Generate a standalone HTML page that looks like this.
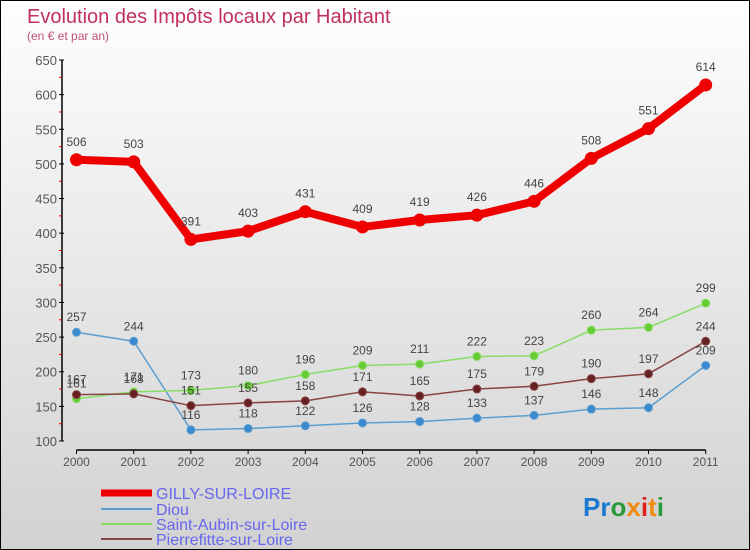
<!DOCTYPE html>
<html><head><meta charset="utf-8"><style>
body{margin:0}
#c{width:748px;height:548px;border:1px solid #000;background:linear-gradient(#fefefe,#d2d2d2);position:relative;font-family:"Liberation Sans",sans-serif;overflow:hidden}
</style></head><body>
<div id="c">
<svg width="748" height="548" id="svg" style="position:absolute;left:0;top:0">
<text x="26" y="22" font-size="20" fill="#c0305a">Evolution des Impôts locaux par Habitant</text>
<text x="26" y="39" font-size="12" fill="#c0507a">(en € et par an)</text>
<g id="axes"></g><g id="series"></g>
<g>
<line x1="100" y1="492" x2="151" y2="492" stroke="#e00" stroke-width="7"/>
<text x="155" y="498" font-size="16" fill="#6666ee">GILLY-SUR-LOIRE</text>
<line x1="100" y1="508" x2="151" y2="508" stroke="#5a9ed0" stroke-width="2"/>
<text x="155" y="514" font-size="16" fill="#6666ee">Diou</text>
<line x1="100" y1="523" x2="151" y2="523" stroke="#88dd66" stroke-width="2"/>
<text x="155" y="529" font-size="16" fill="#6666ee">Saint-Aubin-sur-Loire</text>
<line x1="100" y1="538" x2="151" y2="538" stroke="#884444" stroke-width="2"/>
<text x="155" y="544" font-size="16" fill="#6666ee">Pierrefitte-sur-Loire</text>
</g>
<g font-size="26" font-weight="bold">
<text x="582" y="515"><tspan fill="#1a78d0">Pr</tspan><tspan fill="#2a9a3a">o</tspan><tspan fill="#f08a10">x</tspan><tspan fill="#e02020">i</tspan><tspan fill="#f08a10">t</tspan><tspan fill="#2a9a3a">i</tspan></text>
</g>
</svg>
</div>
<script>
const years=[2000,2001,2002,2003,2004,2005,2006,2007,2008,2009,2010,2011];
const gilly=[506,503,391,403,431,409,419,426,446,508,551,614];
const diou=[257,244,116,118,122,126,128,133,137,146,148,209];
const aubin=[161,171,173,180,196,209,211,222,223,260,264,299];
const pierre=[167,168,151,155,158,171,165,175,179,190,197,244];
const yTicks=[100,150,200,250,300,350,400,450,500,550,600,650];
const NS='http://www.w3.org/2000/svg';
const xs=i=>75.5+i*57.2;
const ys=v=>440-(v-100)*0.6927;
const ax=document.getElementById('axes'),se=document.getElementById('series');
function mk(tag,attrs,parent){const e=document.createElementNS(NS,tag);for(const k in attrs)e.setAttribute(k,attrs[k]);parent.appendChild(e);return e;}
let l=mk('line',{x1:61,y1:ys(650),x2:61,y2:ys(100),stroke:'#000','stroke-width':1.5},ax);


l=mk('line',{x1:xs(0),y1:449,x2:xs(11),y2:449,stroke:'#000','stroke-width':1.5},ax);


yTicks.forEach((v,i)=>{
 mk('line',{x1:58,y1:ys(v),x2:63,y2:ys(v),stroke:'#000'},ax);
 if(i<yTicks.length-1)mk('line',{x1:58,y1:ys(v+25),x2:61,y2:ys(v+25),stroke:'#e00'},ax);
 const t=mk('text',{x:56,y:ys(v)+5,'font-size':13,fill:'#555','text-anchor':'end'},ax);t.textContent=v;
 
 
});
years.forEach((y,i)=>{
 mk('line',{x1:xs(i),y1:449,x2:xs(i),y2:453,stroke:'#000'},ax);
 const t=mk('text',{x:xs(i),y:465,'font-size':12,fill:'#555','text-anchor':'middle'},ax);t.textContent=y;
 
 
});
function series(d,color,dot,w,r,name,off){
 const g=mk('g',{},se);
 
 
 const p=mk('polyline',{points:d.map((v,i)=>xs(i)+','+ys(v)).join(' '),fill:'none',stroke:color,'stroke-width':w,'stroke-linejoin':'round'},g);
 
 
 d.forEach((v,i)=>{
  const c=mk('circle',{cx:xs(i),cy:ys(v),r:r,fill:dot,stroke:color,'stroke-width':1},g);
  
  
  const t=mk('text',{x:xs(i),y:ys(v)-off,'font-size':12,fill:'#444','text-anchor':'middle'},g);t.textContent=v;
  
  
 });
}
series(diou,'#5a9ed0','#3a8ad0',1.5,4,'diou',11);
series(aubin,'#88dd66','#66cc33',1.5,4,'saint-aubin',11);
series(pierre,'#884444','#662222',1.5,4,'pierrefitte',11);
series(gilly,'#e00','#e00',8,6,'gilly',14);
</script>
</body></html>
